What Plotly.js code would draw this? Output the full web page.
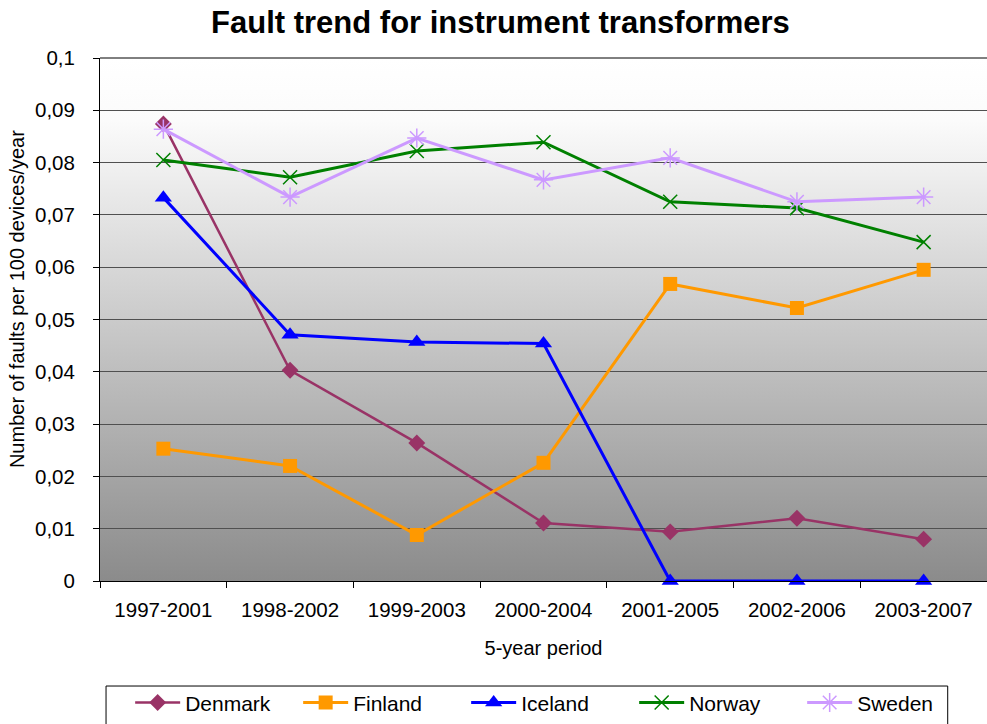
<!DOCTYPE html>
<html>
<head>
<meta charset="utf-8">
<script src="https://cdn.plot.ly/plotly-3.0.1.min.js"></script>
<style>
  html, body { margin: 0; padding: 0; background: #ffffff; }
  #chart { width: 987px; height: 724px; }
</style>
</head>
<body>
<div id="chart"></div>
<script>
// ---- Data ----
const periods = ["1997-2001", "1998-2002", "1999-2003", "2000-2004", "2001-2005", "2002-2006", "2003-2007"];
const denmark = [0.0874, 0.0403, 0.0264, 0.0111, 0.0094, 0.0120, 0.0080];
const finland = [0.0253, 0.0220, 0.0088, 0.0226, 0.0568, 0.0522, 0.0595];
const iceland = [0.0733, 0.0471, 0.0457, 0.0454, 0.0, 0.0, 0.0];
const norway  = [0.0805, 0.0772, 0.0822, 0.0839, 0.0725, 0.0713, 0.0648];
const sweden  = [0.0864, 0.0734, 0.0847, 0.0767, 0.0809, 0.0725, 0.0734];
const yTicks  = [0, 0.01, 0.02, 0.03, 0.04, 0.05, 0.06, 0.07, 0.08, 0.09, 0.1];

const FONT = "Liberation Sans, Arial, Helvetica, sans-serif";

function series(name, y, color, symbol, size, width, open) {
  return {
    type: "scatter", mode: "lines+markers", name: name,
    x: periods, y: y,
    line: { color: color, width: width },
    marker: open
      ? { symbol: symbol, size: size, color: color, line: { color: color, width: 1.5 } }
      : { symbol: symbol, size: size, color: color, line: { width: 0 } },
    cliponaxis: false
  };
}

const traces = [
  series("Denmark", denmark, "#993366", "diamond", 13, 2.5, false),
  series("Finland", finland, "#FF9900", "square", 14, 3, false),
  series("Iceland", iceland, "#0000FF", "triangle-up", 15, 3, false),
  series("Norway",  norway,  "#008000", "x-thin", 14, 3, true),
  series("Sweden",  sweden,  "#CC99FF", "asterisk", 16, 3, true)
];

const gradSvg = "<svg xmlns='http://www.w3.org/2000/svg' width='10' height='100' preserveAspectRatio='none'>" +
  "<defs><linearGradient id='g' x1='0' y1='0' x2='0' y2='1'>" +
  "<stop offset='0' stop-color='#ffffff'/><stop offset='0.12' stop-color='#fbfbfb'/>" +
  "<stop offset='1' stop-color='#8b8b8b'/></linearGradient></defs>" +
  "<rect width='10' height='100' fill='url(#g)'/></svg>";
const gradUri = "data:image/svg+xml;charset=utf-8," + encodeURIComponent(gradSvg);

const layout = {
  width: 987, height: 724,
  margin: { l: 100, r: 0, t: 58, b: 143, autoexpand: false },
  paper_bgcolor: "#ffffff",
  plot_bgcolor: "rgba(0,0,0,0)",
  separators: ", ",
  font: { family: FONT, size: 20, color: "#000000" },
  title: {
    text: "<b>Fault trend for instrument transformers</b>",
    font: { family: FONT, size: 31, color: "#000000" },
    xref: "container", yref: "container",
    x: 0.507, xanchor: "center", y: 0.969, yanchor: "middle"
  },
  xaxis: {
    type: "category",
    range: [-0.5, periods.length - 0.5],
    tickson: "boundaries",
    ticks: "outside", ticklen: 6, tickcolor: "#000000", tickwidth: 1,
    showline: true, linecolor: "#000000", linewidth: 1,
    showgrid: false, zeroline: false,
    tickfont: { family: FONT, size: 20.5, color: "#000000" },
    ticklabelstandoff: 10,
    title: { text: "5-year period", font: { family: FONT, size: 20, color: "#000000" }, standoff: 21 },
    automargin: false
  },
  yaxis: {
    range: [0, 0.1],
    tickvals: yTicks,
    ticks: "outside", ticklen: 6, tickcolor: "#000000", tickwidth: 1,
    showline: true, linecolor: "#000000", linewidth: 1,
    showgrid: true, gridcolor: "#505050", gridwidth: 1,
    zeroline: false,
    tickfont: { family: FONT, size: 20.5, color: "#000000" },
    ticklabelstandoff: 14,
    automargin: false
  },
  annotations: [{
    text: "Number of faults per 100 devices/year",
    xref: "paper", yref: "paper",
    x: -0.0936, y: 0.539, xanchor: "center", yanchor: "middle",
    textangle: -90, showarrow: false,
    font: { family: FONT, size: 20, color: "#000000" }
  }],
  images: [{
    source: gradUri, xref: "paper", yref: "paper",
    x: 0, y: 1, sizex: 1, sizey: 1, xanchor: "left", yanchor: "top",
    sizing: "stretch", layer: "below"
  }],
  shapes: [{
    type: "rect", xref: "paper", yref: "paper",
    x0: 0.0068, x1: 0.9557, y0: -0.33, y1: -0.2008,
    line: { color: "#000000", width: 1 }, fillcolor: "rgba(0,0,0,0)"
  }, {
    type: "line", xref: "paper", yref: "paper",
    x0: 0, x1: 1, y0: 1, y1: 1,
    line: { color: "#000000", width: 1 }
  }],
  showlegend: true,
  legend: {
    orientation: "h",
    x: 0.034, xanchor: "left",
    y: -0.233, yanchor: "middle",
    font: { family: FONT, size: 21, color: "#000000" },
    bgcolor: "rgba(0,0,0,0)",
    borderwidth: 0,
    itemwidth: 45,
    entrywidth: 108,
    entrywidthmode: "pixels",
    itemclick: false, itemdoubleclick: false
  }
};

Plotly.newPlot("chart", traces, layout, { displayModeBar: false, staticPlot: true });
</script>
</body>
</html>
